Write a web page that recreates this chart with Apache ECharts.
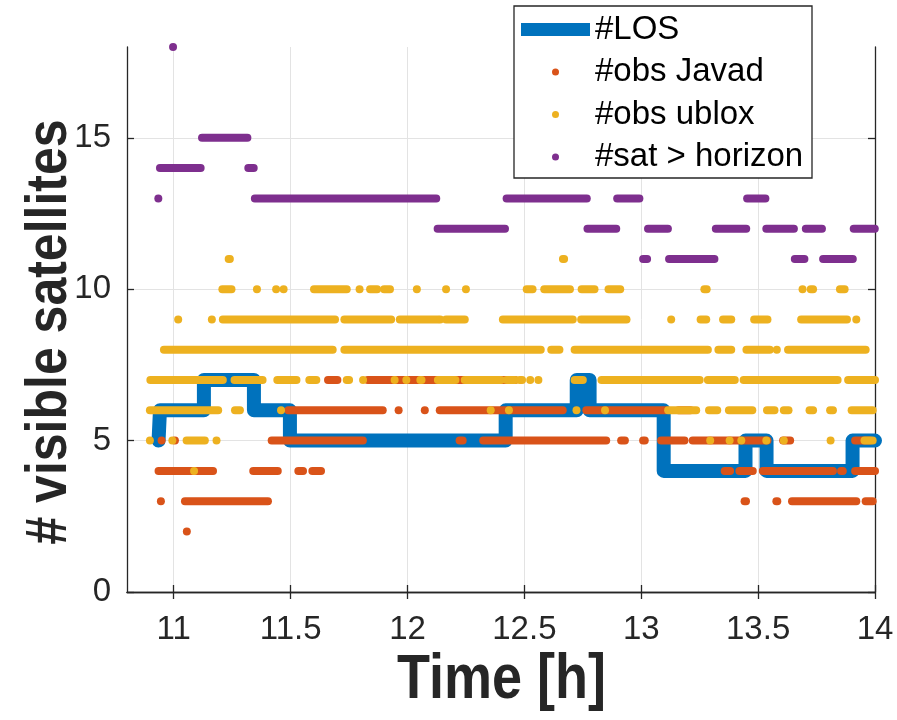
<!DOCTYPE html>
<html>
<head>
<meta charset="utf-8">
<script src="https://cdn.jsdelivr.net/npm/echarts@6/dist/echarts.min.js"></script>
<style>
  html, body { margin: 0; padding: 0; background: #fff; }
  #chart { width: 897px; height: 720px; }
</style>
</head>
<body>
<div id="chart"></div>
<script>
// Line-of-sight satellite count: change points (time in hours, count)
const losTimes  = [10.935, 10.941, 11.129, 11.343, 11.497, 12.420, 12.724, 12.779, 13.096, 13.446, 13.536, 13.904, 14.0];
const losValues = [5, 6, 7, 6, 5, 6, 7, 6, 4, 5, 4, 5, 5];

// Observation epochs, grouped into runs of consecutive samples: [start h, end h, count]
const javadRuns = [
  [11.056, 11.056, 2],
  [10.945, 10.945, 3], [11.048, 11.403, 3], [13.442, 13.448, 3], [13.578, 13.582, 3], [13.645, 13.92, 3], [13.96, 13.99, 3],
  [10.935, 11.168, 4], [11.34, 11.445, 4], [11.533, 11.553, 4], [11.593, 11.63, 4], [13.357, 13.38, 4], [13.42, 13.477, 4],
  [13.52, 13.82, 4], [13.855, 13.862, 4], [13.915, 14.0, 4],
  [10.948, 10.948, 5], [11.005, 11.005, 5], [11.419, 11.809, 5], [12.223, 12.236, 5], [12.324, 12.85, 5], [12.914, 12.93, 5],
  [13.008, 13.015, 5], [13.085, 13.185, 5], [13.22, 13.54, 5], [13.607, 13.637, 5], [13.915, 13.977, 5],
  [11.49, 11.894, 6], [11.962, 11.962, 6], [12.074, 12.074, 6], [12.138, 12.664, 6], [12.765, 13.107, 6], [13.16, 13.21, 6],
  [11.66, 11.70, 7], [11.83, 12.46, 7]
];

const ubloxRuns = [
  [11.087, 11.087, 4],
  [10.898, 10.898, 5], [10.994, 10.994, 5], [11.055, 11.133, 5], [11.183, 11.183, 5], [13.295, 13.295, 5], [13.378, 13.378, 5],
  [13.428, 13.428, 5], [13.535, 13.535, 5], [13.61, 13.61, 5], [13.81, 13.81, 5], [13.955, 13.99, 5],
  [10.898, 11.19, 6], [11.262, 11.283, 6], [11.459, 11.459, 6], [12.356, 12.356, 6], [12.434, 12.434, 6], [12.723, 12.723, 6],
  [12.845, 12.845, 6], [13.115, 13.235, 6], [13.29, 13.325, 6], [13.375, 13.475, 6], [13.538, 13.57, 6], [13.61, 13.63, 6],
  [13.72, 13.735, 6], [13.808, 13.82, 6], [13.9, 13.99, 6],
  [10.9, 11.21, 7], [11.26, 11.38, 7], [11.443, 11.525, 7], [11.58, 11.61, 7], [11.74, 11.75, 7], [11.81, 11.81, 7],
  [11.945, 11.945, 7], [11.995, 11.995, 7], [12.055, 12.06, 7], [12.13, 12.205, 7], [12.245, 12.40, 7], [12.424, 12.46, 7],
  [12.48, 12.49, 7], [12.525, 12.525, 7], [12.56, 12.56, 7], [12.715, 12.75, 7], [12.83, 13.25, 7], [13.285, 13.40, 7],
  [13.438, 13.84, 7], [13.885, 14.0, 7],
  [10.958, 11.68, 8], [11.73, 12.57, 8], [12.615, 12.65, 8], [12.715, 13.285, 8], [13.33, 13.385, 8], [13.45, 13.55, 8],
  [13.58, 13.58, 8], [13.628, 13.96, 8],
  [11.019, 11.019, 9], [11.163, 11.163, 9], [11.21, 11.69, 9], [11.73, 11.93, 9], [11.967, 12.13, 9], [12.14, 12.14, 9],
  [12.165, 12.245, 9], [12.408, 12.707, 9], [12.743, 12.937, 9], [13.128, 13.128, 9], [13.254, 13.278, 9], [13.35, 13.385, 9],
  [13.483, 13.54, 9], [13.684, 13.88, 9], [13.92, 13.92, 9],
  [11.208, 11.247, 10], [11.356, 11.356, 10], [11.438, 11.438, 10], [11.47, 11.47, 10], [11.6, 11.74, 10], [11.795, 11.795, 10],
  [11.84, 11.87, 10], [11.90, 11.925, 10], [12.04, 12.04, 10], [12.165, 12.165, 10], [12.25, 12.25, 10], [12.51, 12.535, 10],
  [12.585, 12.695, 10], [12.745, 12.80, 10], [12.86, 12.91, 10], [13.27, 13.28, 10], [13.69, 13.69, 10], [13.725, 13.735, 10],
  [13.85, 13.87, 10],
  [11.235, 11.24, 11], [12.665, 12.67, 11]
];

const horizonRuns = [
  [10.934, 10.934, 13], [10.941, 11.115, 14], [10.997, 10.997, 18], [11.121, 11.315, 15], [11.319, 11.342, 14],
  [11.347, 12.123, 13], [12.129, 12.417, 12], [12.424, 12.767, 13], [12.770, 12.893, 12], [12.897, 12.992, 13],
  [13.008, 13.025, 11], [13.029, 13.114, 12], [13.119, 13.313, 11], [13.319, 13.449, 12], [13.453, 13.531, 13],
  [13.535, 13.653, 12], [13.657, 13.698, 11], [13.704, 13.773, 12], [13.778, 13.905, 11], [13.909, 13.999, 12]
];

const xTicks = [11, 11.5, 12, 12.5, 13, 13.5, 14];
const yTicks = [0, 5, 10, 15];
const seriesNames = ['#LOS', '#obs Javad', '#obs ublox', '#sat > horizon'];
const xTitle = 'Time [h]';
const yTitle = '# visible satellites';

const COLORS = ['#0072BD', '#D95319', '#EDB120', '#7E2F8E'];
const AXIS_COLOR = '#262626';
const DOT = 8;
const FONT = 'Liberation Sans, Arial, Helvetica, sans-serif';

// A run of samples is drawn as a capsule spanning its first and last dot
function runRenderer(color) {
  return function (params, api) {
    const p0 = api.coord([api.value(0), api.value(2)]);
    const p1 = api.coord([api.value(1), api.value(2)]);
    const r = DOT / 2;
    return {
      type: 'rect',
      shape: { x: p0[0] - r, y: p0[1] - r, width: p1[0] - p0[0] + 2 * r, height: 2 * r, r: r },
      style: { fill: color }
    };
  };
}

function runSeries(name, runs, color, z) {
  return {
    name: name,
    type: 'custom',
    xAxisIndex: 0,
    yAxisIndex: 0,
    z: z,
    itemStyle: { color: color },
    renderItem: runRenderer(color),
    encode: { x: [0, 1], y: 2 },
    data: runs,
    silent: true
  };
}

// Legend box in the upper right, drawn as plain graphic elements
const LEG = { x: 514, y: 6, w: 298, h: 172, iconX: 521, iconW: 69, textX: 595, rows: [29.5, 72, 114.5, 157] };
function legendGraphics() {
  const g = [{
    type: 'rect', z: 20, silent: true,
    shape: { x: LEG.x, y: LEG.y, width: LEG.w, height: LEG.h },
    style: { fill: '#ffffff', stroke: AXIS_COLOR, lineWidth: 1.3 }
  }];
  seriesNames.forEach(function (name, i) {
    const cy = LEG.rows[i];
    if (i === 0) {
      g.push({
        type: 'line', z: 21, silent: true,
        shape: { x1: LEG.iconX, y1: cy, x2: LEG.iconX + LEG.iconW, y2: cy },
        style: { stroke: COLORS[0], lineWidth: 13 }
      });
    } else {
      g.push({
        type: 'circle', z: 21, silent: true,
        shape: { cx: LEG.iconX + LEG.iconW / 2, cy: cy, r: 3.5 },
        style: { fill: COLORS[i] }
      });
    }
    g.push({
      type: 'text', z: 21, silent: true, x: LEG.textX, y: cy,
      style: { text: name, fill: '#000000', font: '33px ' + FONT, verticalAlign: 'middle', align: 'left' }
    });
  });
  return g;
}

// Axis titles in a tall bold face
function titleGraphics() {
  return [
    {
      type: 'text', z: 10, silent: true, x: 501.5, y: 681, scaleX: 1, scaleY: 1.15,
      style: { text: xTitle, fill: AXIS_COLOR, font: 'bold 54px ' + FONT, align: 'center', verticalAlign: 'middle' }
    },
    {
      type: 'text', z: 10, silent: true, x: 50, y: 332, rotation: Math.PI / 2, scaleX: 1, scaleY: 1.15,
      style: { text: yTitle, fill: AXIS_COLOR, font: 'bold 50px ' + FONT, align: 'center', verticalAlign: 'middle' }
    }
  ];
}

const chart = echarts.init(document.getElementById('chart'), null, { renderer: 'canvas' });

const baseAxis = {
  axisLine: { show: true, lineStyle: { color: AXIS_COLOR, width: 1.3 } },
  axisTick: { show: true, inside: true, length: 7, lineStyle: { color: AXIS_COLOR, width: 1.3 } }
};

chart.setOption({
  animation: false,
  backgroundColor: '#ffffff',
  grid: { left: 127, right: 22, top: 47, bottom: 128, containLabel: false },
  xAxis: [
    Object.assign({}, baseAxis, {
      type: 'value', min: 10.8, max: 14, position: 'bottom',
      axisTick: Object.assign({}, baseAxis.axisTick, { customValues: xTicks }),
      axisLabel: { customValues: xTicks, color: AXIS_COLOR, fontSize: 33, fontFamily: FONT, margin: 21 },
      splitLine: { show: true, lineStyle: { color: '#e3e3e3', width: 1 } }
    }),
    Object.assign({}, baseAxis, {
      type: 'value', min: 10.8, max: 14, position: 'top',
      axisTick: Object.assign({}, baseAxis.axisTick, { customValues: xTicks }),
      axisLabel: { show: false, customValues: xTicks },
      splitLine: { show: false }
    })
  ],
  yAxis: [
    Object.assign({}, baseAxis, {
      type: 'value', min: 0, max: 18, position: 'left',
      axisTick: Object.assign({}, baseAxis.axisTick, { customValues: yTicks }),
      axisLabel: { customValues: yTicks, color: AXIS_COLOR, fontSize: 33, fontFamily: FONT, margin: 16 },
      splitLine: { show: true, lineStyle: { color: '#e3e3e3', width: 1 } }
    }),
    Object.assign({}, baseAxis, {
      type: 'value', min: 0, max: 18, position: 'right',
      axisTick: Object.assign({}, baseAxis.axisTick, { customValues: yTicks }),
      axisLabel: { show: false, customValues: yTicks },
      splitLine: { show: false }
    })
  ],
  graphic: legendGraphics().concat(titleGraphics()),
  series: [
    {
      name: seriesNames[0],
      type: 'line',
      step: 'end',
      xAxisIndex: 0, yAxisIndex: 0,
      z: 2,
      showSymbol: false,
      silent: true,
      color: COLORS[0],
      lineStyle: { color: COLORS[0], width: 14, cap: 'round', join: 'round' },
      data: losTimes.map(function (t, i) { return [t, losValues[i]]; })
    },
    runSeries(seriesNames[1], javadRuns, COLORS[1], 3),
    runSeries(seriesNames[2], ubloxRuns, COLORS[2], 4),
    runSeries(seriesNames[3], horizonRuns, COLORS[3], 5)
  ]
});
</script>
</body>
</html>
